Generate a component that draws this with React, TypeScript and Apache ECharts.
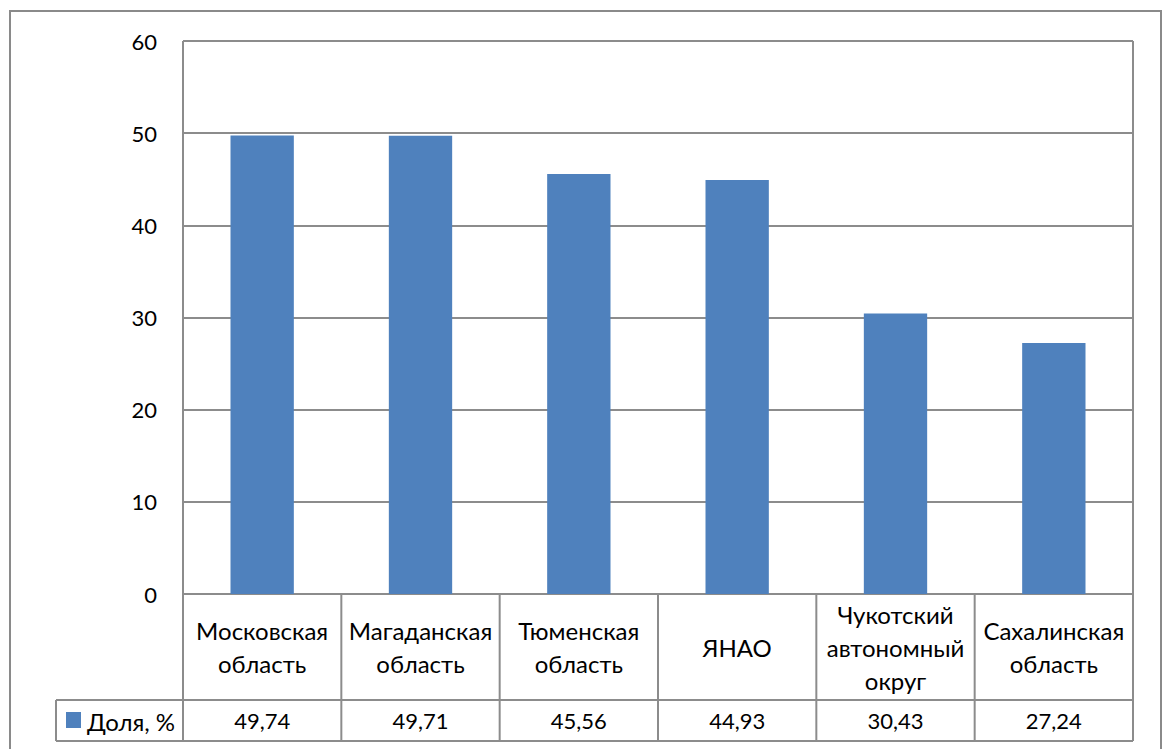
import React, { useEffect, useRef } from "react";
import * as echarts from "echarts";

const categories = [
  "Московская\nобласть",
  "Магаданская\nобласть",
  "Тюменская\nобласть",
  "ЯНАО",
  "Чукотский\nавтономный\nокруг",
  "Сахалинская\nобласть",
];
const values = [49.74, 49.71, 45.56, 44.93, 30.43, 27.24];
const seriesName = "Доля, %";
const yMin = 0;
const yMax = 60;
const yStep = 10;

const W = 1168;
const H = 749;
const GL = 183;
const GR = 1133;
const GT = 41;
const GB = 594;
const ROW1 = 700;
const ROW2 = 741;
const LEGX = 56;
const FONT = "Lato, 'Noto Sans', sans-serif";
const GRID_COLOR = "#8c8c8c";
const BAR_COLOR = "#4F81BD";

export default function App() {
  const ref = useRef<HTMLDivElement>(null);
  useEffect(() => {
    if (!ref.current) return;
    const chart = echarts.init(ref.current, null, { renderer: "svg" });
    const n = categories.length;
    const cw = (GR - GL) / n;
    const lineStyle = { stroke: GRID_COLOR, lineWidth: 2 };
    const graphics: any[] = [];
    graphics.push({
      type: "rect",
      shape: { x: 10, y: 11, width: 1151, height: 760 },
      style: { fill: "none", stroke: "#8a8a8a", lineWidth: 2 },
      silent: true,
    });
    graphics.push({ type: "line", shape: { x1: GL, y1: GB, x2: GR, y2: GB }, style: lineStyle });
    graphics.push({ type: "line", shape: { x1: LEGX, y1: ROW1, x2: GR, y2: ROW1 }, style: lineStyle });
    graphics.push({ type: "line", shape: { x1: LEGX, y1: ROW2, x2: GR, y2: ROW2 }, style: lineStyle });
    graphics.push({ type: "line", shape: { x1: LEGX, y1: ROW1, x2: LEGX, y2: ROW2 }, style: lineStyle });
    for (let k = 0; k <= n; k++) {
      const x = GL + k * cw;
      graphics.push({ type: "line", shape: { x1: x, y1: k === 0 || k === n ? GT : GB, x2: x, y2: ROW2 }, style: lineStyle });
    }
    graphics.push({
      type: "rect",
      shape: { x: 66, y: 712, width: 15, height: 16 },
      style: { fill: BAR_COLOR },
    });
    graphics.push({
      type: "text",
      x: 87,
      y: 721,
      style: { text: seriesName, font: `24px ${FONT}`, fill: "#000", verticalAlign: "middle", align: "left" },
    });

    chart.setOption({
      animation: false,
      backgroundColor: "#fff",
      grid: { left: GL, right: W - GR, top: GT, bottom: H - GB, containLabel: false },
      xAxis: [
        {
          type: "category",
          data: categories,
          axisLine: { show: false },
          axisTick: { show: false },
          axisLabel: {
            interval: 0,
            margin: 53,
            verticalAlign: "middle",
            lineHeight: 33,
            fontSize: 24,
            fontFamily: FONT,
            color: "#000",
            align: "center",
          },
        },
        {
          type: "category",
          position: "bottom",
          data: values.map((v) => v.toFixed(2).replace(".", ",")),
          axisLine: { show: false },
          axisTick: { show: false },
          axisLabel: {
            interval: 0,
            margin: 126,
            verticalAlign: "middle",
            fontSize: 22,
            fontFamily: FONT,
            color: "#000",
          },
        },
      ],
      yAxis: {
        type: "value",
        min: yMin,
        max: yMax,
        interval: yStep,
        axisLine: { show: false },
        axisTick: { show: false },
        axisLabel: { margin: 26, fontSize: 22, fontFamily: FONT, color: "#000" },
        splitLine: { show: true, lineStyle: { color: GRID_COLOR, width: 2 } },
      },
      series: [
        {
          name: seriesName,
          type: "bar",
          data: values,
          barWidth: "40%",
          itemStyle: { color: BAR_COLOR },
        },
      ],
      graphic: graphics,
    });
    return () => chart.dispose();
  }, []);
  return <div ref={ref} style={{ position: "fixed", left: 0, top: 0, width: W, height: H }} />;
}
